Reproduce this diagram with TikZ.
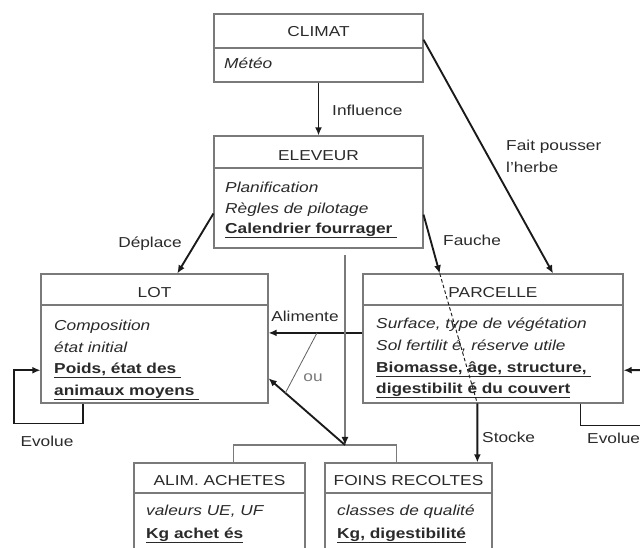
\documentclass[tikz,border=0pt]{standalone}
\usepackage{fontspec}
\setmainfont{Liberation Sans}[FakeStretch=1.2]
\usetikzlibrary{arrows.meta,calc,fit}
\definecolor{boxc}{HTML}{7A7A7A}
\definecolor{txtc}{HTML}{2A2A2A}
\definecolor{arrc}{HTML}{1A1A1A}
\newcommand\ulx[1]{\underline{#1\hspace{4pt}}}
\newcommand\boxdiv[2]{\coordinate (#1-d) at (0,#2); \draw[thinline] (#1.west |- #1-d) -- (#1.east |- #1-d);}
\begin{document}
\begin{tikzpicture}[x=0.03cm,y=-0.03cm,
  every node/.style={font=\fontsize{12.3}{14}\selectfont, text=txtc, inner sep=0pt},
  umlbox/.style={draw=boxc, line width=0.9pt, inner sep=0pt},
  title/.style={anchor=base},
  attr/.style={anchor=base west, font=\fontsize{12.3}{14}\selectfont\itshape},
  keyattr/.style={anchor=base west, font=\fontsize{12.3}{14}\selectfont\bfseries},
  lbl/.style={anchor=base west},
  arr/.style={draw=arrc, line width=1.6pt, -{Latex[length=7pt,width=6pt]}},
  thickline/.style={draw=arrc, line width=1.6pt},
  thinline/.style={draw=boxc, line width=0.9pt},
]
\useasboundingbox (0,0) rectangle (640,547);
\fill[white] (0,0) rectangle (640,547);
\clip (0,0) rectangle (640,547);

% boxes
\node[umlbox, fit={(214,14)(423,82)}] (climat) {};
\boxdiv{climat}{48}
\node[umlbox, fit={(214,136)(423,248)}] (eleveur) {};
\boxdiv{eleveur}{168}
\node[umlbox, fit={(41,274)(268,403)}] (lot) {};
\boxdiv{lot}{305}
\node[umlbox, fit={(363,274)(623,403)}] (parcelle) {};
\boxdiv{parcelle}{305}
\node[umlbox, fit={(134,463)(305,570)}] (alim) {};
\boxdiv{alim}{493}
\node[umlbox, fit={(325,463)(492,570)}] (foins) {};
\boxdiv{foins}{493}

% texts
\node[title] (tclimat) at (318.5,36) {CLIMAT};
\node[attr] (meteo) at (224,68) {Météo};
\node[title] (televeur) at (318.5,160) {ELEVEUR};
\node[attr] (e1) at (225,192) {Planification};
\node[attr] (e2) at (225,213) {Règles de pilotage};
\node[keyattr] (e3) at (225,233) {\ulx{Calendrier fourrager}};
\node[title] (tlot) at (154.5,297) {LOT};
\node[attr] (l1) at (54,330) {Composition};
\node[attr] (l2) at (54,352) {état initial};
\node[keyattr] (l3) at (54,373) {\ulx{Poids, état des}};
\node[keyattr] (l4) at (54,395) {\ulx{animaux moyens}};
\node[title] (tparcelle) at (493,297) {PARCELLE};
\node[attr] (p1) at (376,328) {Surface, type de végétation};
\node[attr] (p2) at (376,350) {Sol fertilit é, réserve utile};
\node[keyattr] (p3) at (376,372) {\ulx{Biomasse, âge, structure,}};
\node[keyattr] (p4) at (376,393) {\underline{digestibilit é du couvert}};
\node[title] (talim) at (219.5,485) {ALIM. ACHETES};
\node[attr] (a1) at (146,515) {valeurs UE, UF};
\node[keyattr] (a2) at (146,538) {\underline{Kg achet és}};
\node[title] (tfoins) at (408.5,485) {FOINS RECOLTES};
\node[attr] (f1) at (337,515) {classes de qualité};
\node[keyattr] (f2) at (337,538) {\underline{Kg, digestibilité}};

% connectors
\draw[arr] (climat.south) -- (eleveur.north);
\draw[arr] ($(climat.north east)!0.38!(climat.south east)$) -- ($(parcelle.north west)!0.73!(parcelle.north east)$);
\draw[arr] ($(eleveur.north west)!0.69!(eleveur.south west)$) -- ($(lot.north west)!0.6!(lot.north east)$);
\draw[arr] ($(eleveur.north east)!0.7!(eleveur.south east)$) -- ($(parcelle.north west)!0.296!(parcelle.north east)$);
\draw[arrc, line width=0.8pt, dash pattern=on 3pt off 2pt] ($(parcelle.north west)!0.296!(parcelle.north east)$) -- ($(parcelle.south west)!0.44!(parcelle.south east)$);
\draw[arr] ($(parcelle.south west)!0.44!(parcelle.south east)$) -- ($(foins.north west)!0.91!(foins.north east)$);
\draw[arr] ($(parcelle.north west)!0.457!(parcelle.south west)$) -- coordinate[pos=0.484] (ouA) ($(lot.north east)!0.457!(lot.south east)$);

\coordinate (bracket) at (345,445);
\coordinate (choiceTop) at (345,255);
\draw[thinline] ($(alim.north west)!0.58!(alim.north east)$) |- (bracket) -| ($(foins.north west)!0.43!(foins.north east)$);
\draw[draw=boxc, line width=0.9pt, -{Latex[length=7pt,width=6pt,color=arrc]}] (choiceTop) -- (bracket);
\draw[arr] (bracket) -- coordinate[pos=0.78] (ouB) ($(lot.north east)!0.806!(lot.south east)$);
\draw[draw=boxc!80!black, line width=0.7pt] (ouA) -- (ouB);

\draw[arr] ($(lot.south west)!0.185!(lot.south east)$) -- ++(0,20) -- ++(-69,0) |- ($(lot.north west)!0.744!(lot.south west)$);
\draw[thickline] ($(parcelle.south west)!0.835!(parcelle.south east)$) -- ++(0,22) -- ++(80,0);
\coordinate (offR) at (655,370);
\draw[arr] (offR) -- ($(parcelle.north east)!0.744!(parcelle.south east)$);

% labels
\node[lbl] (linfl) at (332,115) {Influence};
\node[lbl] (lfp1) at (506,150) {Fait pousser};
\node[lbl] (lfp2) at (506,172) {l'herbe};
\node[anchor=base] (ldepl) at (150,247) {Déplace};
\node[lbl] (lfauche) at (443,245) {Fauche};
\node[anchor=base] (lalim) at (305,321) {Alimente};
\node[anchor=base, text=boxc] (lou) at (313,381) {ou};
\node[lbl] (lstocke) at (482,442) {Stocke};
\node[anchor=base] (levl) at (47,446) {Evolue};
\node[lbl] (levr) at (587,443) {Evolue};
\end{tikzpicture}
\end{document}
